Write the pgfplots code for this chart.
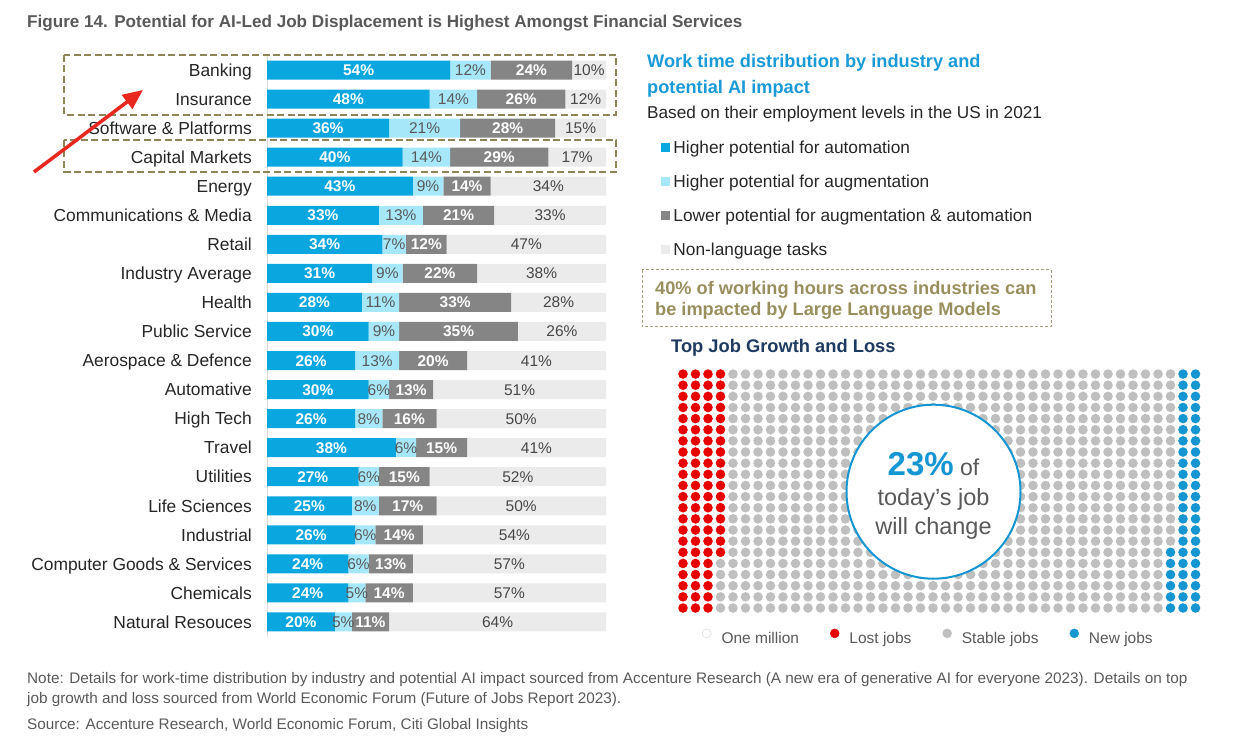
\documentclass[border=0pt]{standalone}
\usepackage{fontspec}
\setmainfont{Liberation Sans}
\usepackage{pgfplots}
\usepackage{pgfplotstable}
\pgfplotsset{compat=1.18}
\usetikzlibrary{arrows.meta}

\definecolor{cAuto}{HTML}{0AA6DF}
\definecolor{cAug}{HTML}{A6E8F9}
\definecolor{cLow}{HTML}{858585}
\definecolor{cNon}{HTML}{EBEBEB}
\definecolor{cTitle}{HTML}{595959}
\definecolor{cText}{HTML}{262626}
\definecolor{cHead}{HTML}{1A9AD6}
\definecolor{cOlive}{HTML}{8F8657}
\definecolor{cOliveT}{HTML}{998F5E}
\definecolor{cNavy}{HTML}{1F3A60}
\definecolor{cRed}{HTML}{E60000}
\definecolor{cGrayDot}{HTML}{BFBFBF}
\definecolor{cBlueDot}{HTML}{1596D2}
\definecolor{cArrow}{HTML}{E8271E}
\definecolor{cNote}{HTML}{595959}
\definecolor{cAxis}{HTML}{D9D9D9}

\newcommand\fs[1]{\fontsize{#1}{#1}\selectfont}
\newcommand\pctlabel{\pgfmathprintnumber{\pgfplotspointmeta}\%}

\pgfplotstableread{
i a b c d
0 54 12 24 10
1 48 14 26 12
2 36 21 28 15
3 40 14 29 17
4 43 9 14 34
5 33 13 21 33
6 34 7 12 47
7 31 9 22 38
8 28 11 33 28
9 30 9 35 26
10 26 13 20 41
11 30 6 13 51
12 26 8 16 50
13 38 6 15 41
14 27 6 15 52
15 25 8 17 50
16 26 6 14 54
17 24 6 13 57
18 24 5 14 57
19 20 5 11 64
}\jobdata

\pgfplotsset{
  dotcol/.style={forget plot, line width=9.6pt, line cap=round, dash pattern=on 0pt off 11.14pt},
  barframe/.style={at={(267pt,680.5pt)}, anchor=north west,
    scale only axis, width=339pt, height=581pt,
    xmin=0, xmax=100, ymin=-0.5, ymax=19.5, y dir=reverse},
  seglabel/.style={draw=none, mark=none, forget plot, nodes near coords={\pctlabel},
    every node near coord/.style={anchor=center, inner sep=0pt, text height=11pt, text depth=0pt, #1}},
}

\begin{document}
\begin{tikzpicture}
\path[use as bounding box] (0,0) rectangle (1237pt,736pt);

% Title
\node[anchor=base west, inner sep=0pt, text=cTitle, font=\fs{17.1}\bfseries] at (27pt,708pt)
  {Figure 14. Potential for AI-Led Job Displacement is Highest Amongst Financial Services};

% Bar chart
\begin{axis}[
  barframe,
  xbar stacked, bar width=19pt,
  axis x line=none, axis y line*=left,
  y axis line style={draw=cAxis, line width=0.8pt, -},
  ytick={0,...,19}, ytick style={draw=none},
  yticklabels={Banking,Insurance,Software \& Platforms,Capital Markets,Energy,Communications \& Media,Retail,Industry Average,Health,Public Service,Aerospace \& Defence,Automative,High Tech,Travel,Utilities,Life Sciences,Industrial,Computer Goods \& Services,Chemicals,Natural Resouces},
  yticklabel style={font=\fs{17.4}, text=cText, inner sep=0pt, xshift=-15pt, text height=12.5pt, text depth=0pt},
  every axis plot post/.append style={legend image code/.code={\fill[##1] (0pt,-4.5pt) rectangle (9.5pt,4.5pt);}},
  legend style={at={(axis description cs:1.1622,0.8528)}, anchor=north west, draw=none, fill=none,
    font=\fs{17.3}, row sep=21.5pt, inner sep=0pt, outer sep=0pt,
    nodes={inner sep=0pt, text height=12.5pt, text depth=0pt, text=cText},
    /tikz/every odd column/.append style={column sep=3pt}},
  legend cell align=left,
  clip=false,
]
\addplot[fill=cAuto, draw=none] table[x=a, y=i]{\jobdata};
\addlegendentry{Higher potential for automation}
\addplot[fill=cAug, draw=none] table[x=b, y=i]{\jobdata};
\addlegendentry{Higher potential for augmentation}
\addplot[fill=cLow, draw=none] table[x=c, y=i]{\jobdata};
\addlegendentry{Lower potential for augmentation \& automation}
\addplot[fill=cNon, draw=none] table[x=d, y=i]{\jobdata};
\addlegendentry{Non-language tasks}
\end{axis}

% Segment labels, centred in each segment
\begin{axis}[
  barframe, hide axis, clip=false,
  /pgf/number format/assume math mode=true,
  point meta=explicit,
]
\addplot[seglabel={text=white, font=\fs{15.5}\bfseries}]
  table[x expr=\thisrow{a}/2, y=i, meta=a]{\jobdata};
\addplot[seglabel={text=cTitle, font=\fs{15.5}}]
  table[x expr=\thisrow{a}+\thisrow{b}/2, y=i, meta=b]{\jobdata};
\addplot[seglabel={text=white, font=\fs{15.5}\bfseries}]
  table[x expr=\thisrow{a}+\thisrow{b}+\thisrow{c}/2, y=i, meta=c]{\jobdata};
\addplot[seglabel={text=cText!85, font=\fs{15.5}}]
  table[x expr=\thisrow{a}+\thisrow{b}+\thisrow{c}+\thisrow{d}/2, y=i, meta=d]{\jobdata};
\end{axis}

% Dashed highlight boxes and arrow
\draw[cOlive, line width=2.4pt, dash pattern=on 7pt off 3.5pt] (64pt,681pt) rectangle (616pt,621pt);
\draw[cOlive, line width=2.4pt, dash pattern=on 7pt off 3.5pt] (64pt,596pt) rectangle (616pt,564pt);
\draw[cArrow, line width=3.5pt, -{Triangle[length=20pt,width=17pt]}] (34pt,564pt) -- (143pt,646pt);

% Right-hand texts
\node[anchor=base west, inner sep=0pt, text=cHead, font=\fs{18.2}\bfseries] at (647pt,668.5pt) {Work time distribution by industry and};
\node[anchor=base west, inner sep=0pt, text=cHead, font=\fs{18.2}\bfseries] at (647pt,642.5pt) {potential AI impact};
\node[anchor=base west, inner sep=0pt, text=cText, font=\fs{17.2}] at (647pt,617pt) {Based on their employment levels in the US in 2021};

\draw[cOlive!80, line width=1pt, dash pattern=on 3pt off 2pt] (642pt,466pt) rectangle (1051pt,409pt);
\node[anchor=base west, inner sep=0pt, text=cOliveT, font=\fs{18.2}\bfseries] at (655pt,441pt) {40\% of working hours across industries can};
\node[anchor=base west, inner sep=0pt, text=cOliveT, font=\fs{18.2}\bfseries] at (655pt,420pt) {be impacted by Large Language Models};

\node[anchor=base west, inner sep=0pt, text=cNavy, font=\fs{18.3}\bfseries] at (671pt,383pt) {Top Job Growth and Loss};

% Dot grid
\begin{axis}[
  at={(670.5pt,116.85pt)}, anchor=south west,
  x=12.5pt, y=11.15pt, xmin=0, xmax=43, ymin=0, ymax=23,
  enlargelimits=false, hide axis, clip=false,
  unbounded coords=jump,
  legend columns=4,
  legend style={at={(axis description cs:0.0586,-0.0657)}, anchor=west, draw=none, fill=none,
    font=\fs{15.5}, inner sep=0pt, outer sep=0pt,
    nodes={inner sep=0pt, text height=11pt, text depth=0pt, text=cTitle},
    /tikz/every odd column/.append style={column sep=10pt},
    /tikz/every even column/.append style={column sep=31pt}},
]
\addplot[dotcol, cRed] coordinates {(1,1)(1,22) (1,nan) (2,1)(2,22) (2,nan) (3,1)(3,22) (3,nan) (4,6)(4,22)};
\addplot[dotcol, cGrayDot] coordinates {(4,1)(4,5) (4,nan)
 (5,1)(5,22) (5,nan) (6,1)(6,22) (6,nan) (7,1)(7,22) (7,nan) (8,1)(8,22) (8,nan) (9,1)(9,22) (9,nan)
 (10,1)(10,22) (10,nan) (11,1)(11,22) (11,nan) (12,1)(12,22) (12,nan) (13,1)(13,22) (13,nan) (14,1)(14,22) (14,nan)
 (15,1)(15,22) (15,nan) (16,1)(16,22) (16,nan) (17,1)(17,22) (17,nan) (18,1)(18,22) (18,nan) (19,1)(19,22) (19,nan)
 (20,1)(20,22) (20,nan) (21,1)(21,22) (21,nan) (22,1)(22,22) (22,nan) (23,1)(23,22) (23,nan) (24,1)(24,22) (24,nan)
 (25,1)(25,22) (25,nan) (26,1)(26,22) (26,nan) (27,1)(27,22) (27,nan) (28,1)(28,22) (28,nan) (29,1)(29,22) (29,nan)
 (30,1)(30,22) (30,nan) (31,1)(31,22) (31,nan) (32,1)(32,22) (32,nan) (33,1)(33,22) (33,nan) (34,1)(34,22) (34,nan)
 (35,1)(35,22) (35,nan) (36,1)(36,22) (36,nan) (37,1)(37,22) (37,nan) (38,1)(38,22) (38,nan) (39,1)(39,22) (39,nan)
 (40,7)(40,22)};
\addplot[dotcol, cBlueDot] coordinates {(40,1)(40,6) (40,nan) (41,1)(41,22) (41,nan) (42,1)(42,22)};
\addlegendimage{legend image code/.code={\draw[draw=black!15, fill=white, line width=0.5pt] (4.5pt,4.5pt) circle (4.5pt);}}
\addlegendentry{One million}
\addlegendimage{legend image code/.code={\fill[cRed] (4.5pt,4.5pt) circle (4.5pt);}}
\addlegendentry{Lost jobs}
\addlegendimage{legend image code/.code={\fill[cGrayDot] (4.5pt,4.5pt) circle (4.5pt);}}
\addlegendentry{Stable jobs}
\addlegendimage{legend image code/.code={\fill[cBlueDot] (4.5pt,4.5pt) circle (4.5pt);}}
\addlegendentry{New jobs}
\end{axis}

% Circle overlay
\draw[cBlueDot, fill=white, line width=2pt] (933.5pt,244.3pt) circle (87pt);
\node[anchor=base, inner sep=0pt, text=cTitle, font=\fs{23}] at (933.5pt,260pt) {{\color{cBlueDot}\fs{33}\bfseries 23\%} of};
\node[anchor=base, inner sep=0pt, text=cTitle, font=\fs{23.5}] at (933.5pt,230pt) {today’s job};
\node[anchor=base, inner sep=0pt, text=cTitle, font=\fs{23.5}] at (933.5pt,201pt) {will change};

% Notes
\node[anchor=base west, inner sep=0pt, text=cNote, font=\fs{15.3}] at (27pt,52pt)
  {Note: Details for work-time distribution by industry and potential AI impact sourced from Accenture Research (A new era of generative AI for everyone 2023). Details on top};
\node[anchor=base west, inner sep=0pt, text=cNote, font=\fs{15.3}] at (27pt,32.5pt)
  {job growth and loss sourced from World Economic Forum (Future of Jobs Report 2023).};
\node[anchor=base west, inner sep=0pt, text=cNote, font=\fs{15.3}] at (27pt,6pt)
  {Source: Accenture Research, World Economic Forum, Citi Global Insights};
\end{tikzpicture}
\end{document}
